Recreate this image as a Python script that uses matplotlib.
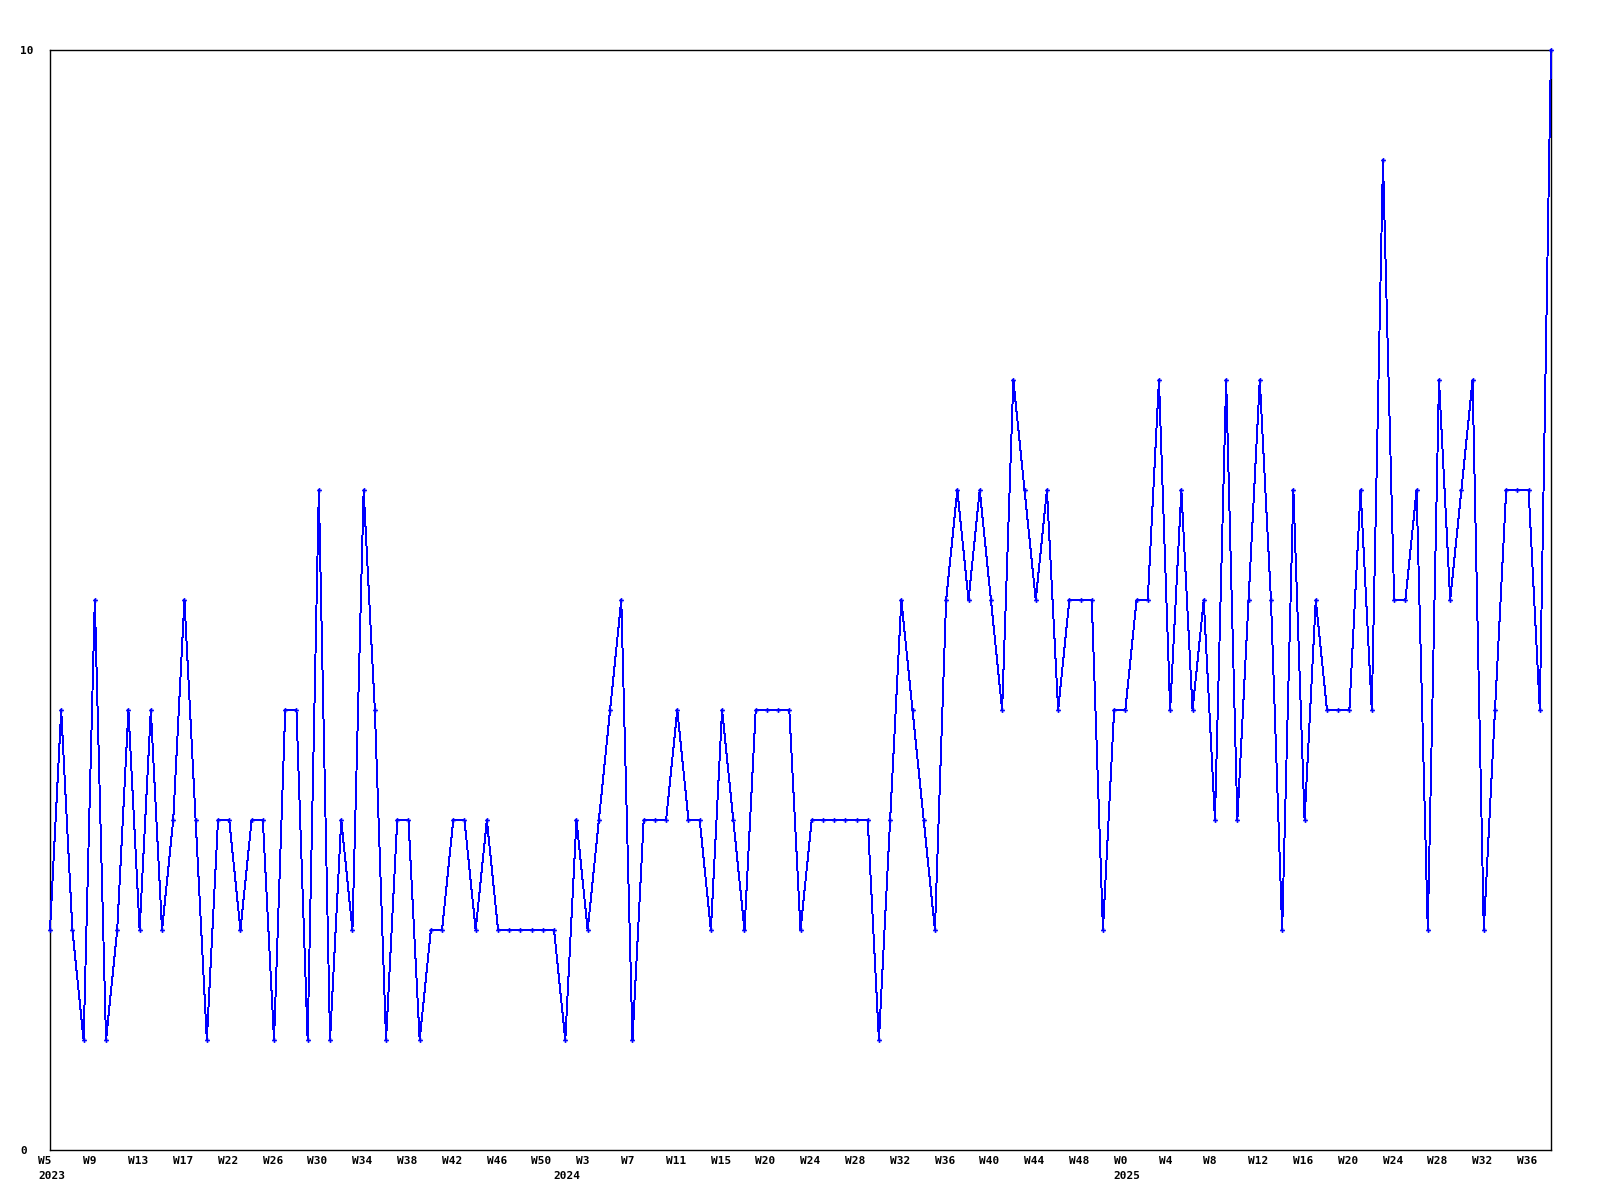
import matplotlib
matplotlib.use("Agg")
import matplotlib.pyplot as plt
import matplotlib.transforms as mtransforms

# ---- data ----
values = [2, 4, 2, 1, 5, 1, 2, 4, 2, 4,
          2, 3, 5, 3, 1, 3, 3, 2, 3, 3,
          1, 4, 4, 1, 6, 1, 3, 2, 6, 4,
          1, 3, 3, 1, 2, 2, 3, 3, 2, 3,
          2, 2, 2, 2, 2, 2, 1, 3, 2, 3,
          4, 5, 1, 3, 3, 3, 4, 3, 3, 2,
          4, 3, 2, 4, 4, 4, 4, 2, 3, 3,
          3, 3, 3, 3, 1, 3, 5, 4, 3, 2,
          5, 6, 5, 6, 5, 4, 7, 6, 5, 6,
          4, 5, 5, 5, 2, 4, 4, 5, 5, 7,
          4, 6, 4, 5, 3, 7, 3, 5, 7, 5,
          2, 6, 3, 5, 4, 4, 4, 6, 4, 9,
          5, 5, 6, 2, 7, 5, 6, 7, 2, 4,
          6, 6, 6, 4, 10]

week_labels = ["W5", "W9", "W13", "W17", "W22", "W26", "W30", "W34", "W38", "W42", "W46", "W50",
               "W3", "W7", "W11", "W15", "W20", "W24", "W28", "W32", "W36", "W40", "W44", "W48",
               "W0", "W4", "W8", "W12", "W16", "W20", "W24", "W28", "W32", "W36"]
label_step = 4
year_labels = ["2023", "2024", "2025"]
year_positions = [0, 46, 96]
y_ticks = [0, 10]

# ---- figure ----
fig = plt.figure(figsize=(16, 12), dpi=100)
ax = fig.add_axes([50 / 1600, 1 - 1150 / 1200, (1551 - 50) / 1600, (1150 - 50) / 1200])

x = list(range(len(values)))
ax.plot(x, values, color="#0000ff", linewidth=0.7, marker="P", markersize=3.5,
        markeredgewidth=0, markerfacecolor="#0000ff", antialiased=False, clip_on=False,
        zorder=3)

ax.set_xlim(0, len(values) - 1)
ax.set_ylim(min(y_ticks), max(y_ticks))

font = dict(family="DejaVu Sans Mono", weight="bold", size=8)

ax.set_yticks(y_ticks)
ax.set_yticklabels([str(t) for t in y_ticks], ha="left", **font)
ax.tick_params(axis="y", length=0, pad=30 * 0.72)

xt = [i * label_step for i in range(len(week_labels))]
ax.set_xticks(xt)
ax.set_xticklabels(week_labels, ha="left", va="top", **font)
ax.tick_params(axis="x", length=0, pad=4)
offset = mtransforms.ScaledTranslation(-11.5 / 100, 0, fig.dpi_scale_trans)
for lab in ax.get_xticklabels():
    lab.set_transform(lab.get_transform() + offset)

for yl, xp in zip(year_labels, year_positions):
    ax.annotate(yl, xy=(xp, 0), xycoords=("data", "axes fraction"),
                xytext=(-11.5 * 0.72, -15.3), textcoords="offset points",
                ha="left", va="top", annotation_clip=False, **font)

for s in ax.spines.values():
    s.set_linewidth(1.0)
    s.set_color("black")

fig.savefig("out.png", dpi=100, facecolor="white")
